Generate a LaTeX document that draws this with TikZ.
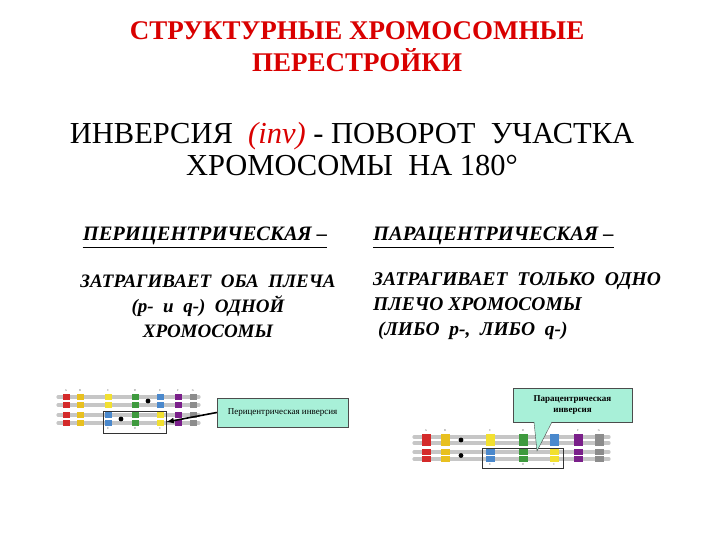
\documentclass[tikz,border=0pt]{standalone}
\usepackage{fontspec}
\setmainfont{Liberation Serif}
\begin{document}
\begin{tikzpicture}[x=1pt,y=-1pt,
  txt/.style={inner sep=0pt,align=center},
  arm/.style={line width=3.2pt,draw=gray!45,line cap=round},
  band/.style={minimum width=#1,minimum height=6pt,inner sep=0pt},
  lbl/.style={font=\fontsize{3}{3}\selectfont,inner sep=0pt,text=black!60},
  frame/.style={draw=black!80,line width=0.5pt}]
\useasboundingbox (0,0) rectangle (720,540);
\definecolor{cA}{HTML}{D42A2A}\definecolor{cB}{HTML}{E8C020}\definecolor{cC}{HTML}{F2E030}
\definecolor{cD}{HTML}{3E9A3E}\definecolor{cE}{HTML}{4A88CC}\definecolor{cF}{HTML}{7A1F8A}
\definecolor{cG}{HTML}{8C8C8C}\definecolor{boxc}{HTML}{A8F0D8}
\node[txt,text=red!85!black,font=\bfseries\fontsize{27}{32}\selectfont] (t1) at (357,47) {СТРУКТУРНЫЕ ХРОМОСОМНЫЕ\\ПЕРЕСТРОЙКИ};
\node[txt,font=\fontsize{30.5}{32}\selectfont] (t2) at (352,149) {ИНВЕРСИЯ \ \textcolor{red!85!black}{\itshape(inv)} - ПОВОРОТ \ УЧАСТКА\\ХРОМОСОМЫ \ НА 180°};
\node[txt,font=\bfseries\itshape\fontsize{20.5}{20}\selectfont] (l1) at (205,236) {ПЕРИЦЕНТРИЧЕСКАЯ –};
\draw[line width=0.9pt] ([yshift=-2pt]l1.south west) -- ([yshift=-2pt]l1.south east);
\node[txt,anchor=west,font=\bfseries\itshape\fontsize{20.5}{20}\selectfont] (r1) at (373,236) {ПАРАЦЕНТРИЧЕСКАЯ –};
\draw[line width=0.9pt] ([yshift=-2pt]r1.south west) -- ([yshift=-2pt]r1.south east);
\node[txt,font=\bfseries\itshape\fontsize{19}{25}\selectfont] (l2) at (208,306) {ЗАТРАГИВАЕТ \ ОБА \ ПЛЕЧА\\(p- \ и \ q-) \ ОДНОЙ\\ХРОМОСОМЫ};
\node[txt,anchor=west,align=left,font=\bfseries\itshape\fontsize{19.5}{25}\selectfont] (r2) at (373,306) {ЗАТРАГИВАЕТ \ ТОЛЬКО \ ОДНО\\ПЛЕЧО ХРОМОСОМЫ\\ \ (ЛИБО \ p-, \ ЛИБО \ q-)};
% left figure
\foreach \y in {397,405,415,423} \draw[arm] (58,\y) -- (199,\y);
\foreach \y in {397,405}{
 \foreach \x/\c in {66/cA,80/cB,108/cC,135/cD,160/cE,178/cF,193/cG} \node[band=7pt,fill=\c] at (\x,\y) {};}
\foreach \y in {415,423}{
 \foreach \x/\c in {66/cA,80/cB,108/cE,135/cD,160/cC,178/cF,193/cG} \node[band=7pt,fill=\c] at (\x,\y) {};}
\fill (148,401) circle (2.4pt); \fill (121,419) circle (2.4pt);
\foreach \x/\t in {66/A,80/B,108/C,135/D,160/E,178/F,193/G} \node[lbl] at (\x,391) {\t};
\node[lbl] at (108,429) {E}; \node[lbl] at (135,429) {D}; \node[lbl] at (160,429) {C};
\node[frame,minimum width=63pt,minimum height=22pt,inner sep=0pt] (lb) at (134.5,422) {};
\node[draw=black!70,fill=boxc,minimum width=131pt,minimum height=29pt,inner sep=0pt,font=\fontsize{9}{10}\selectfont] (lbox) at (282.5,412.5) {Перицентрическая инверсия};
\draw[-latex,line width=1.6pt] (lbox.west) -- (lb.east);
% right figure
\foreach \y in {437,443,452,459} \draw[arm] (414,\y) -- (609,\y);
\foreach \y in {437,443}{
 \foreach \x/\c in {426/cA,445/cB,490/cC,523/cD,554/cE,578/cF,599/cG} \node[band=9pt,fill=\c] at (\x,\y) {};}
\foreach \y in {452,459}{
 \foreach \x/\c in {426/cA,445/cB,490/cE,523/cD,554/cC,578/cF,599/cG} \node[band=9pt,fill=\c] at (\x,\y) {};}
\fill (461,440) circle (2.4pt); \fill (461,455.5) circle (2.4pt);
\foreach \x/\t in {426/A,445/B,490/C,523/D,578/F,599/G} \node[lbl] at (\x,431) {\t};
\node[lbl] at (490,465) {E}; \node[lbl] at (523,465) {D}; \node[lbl] at (554,465) {C};
\node[frame,minimum width=81pt,minimum height=20pt,inner sep=0pt] (rb) at (522.5,458) {};
\node[draw=black!70,fill=boxc,minimum width=119pt,minimum height=34pt,inner sep=0pt,align=center,font=\bfseries\fontsize{9}{11}\selectfont] (rbox) at (572.5,405) {Парацентрическая\\инверсия};
\coordinate (tip) at (537,451);
\fill[boxc] (534,421.5) -- (tip) -- (552,421.5) -- cycle;
\draw[black!70] (534,422) -- (tip) -- (552,422);
\end{tikzpicture}
\end{document}
